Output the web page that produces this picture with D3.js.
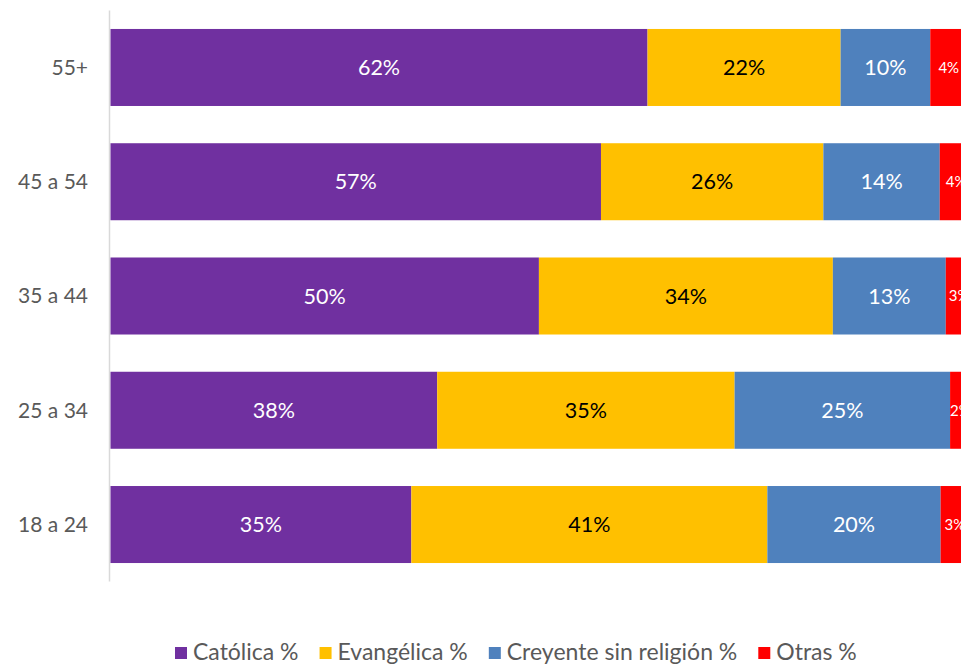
<!DOCTYPE html>
<html>
<head>
<meta charset="utf-8">
<script src="https://cdn.jsdelivr.net/npm/d3@7/dist/d3.min.js"></script>
<style>
  html, body { margin: 0; padding: 0; background: #fff; overflow: hidden; }
  svg { display: block; font-family: Lato, "Open Sans", sans-serif; }
</style>
</head>
<body>
<svg id="chart" width="961" height="665"></svg>
<script>
// ---- data ----
const categories = ["55+", "45 a 54", "35 a 44", "25 a 34", "18 a 24"];
const seriesNames = ["Católica %", "Evangélica %", "Creyente sin religión %", "Otras %"];
const catolica   = [62.3, 56.9, 49.7, 37.9, 34.9];
const evangelica = [22.4, 25.8, 34.1, 34.5, 41.3];
const creyente   = [10.4, 13.5, 13.1, 25.0, 20.1];
const otras      = [4.3, 3.8, 3.1, 2.4, 3.3];
const colors = ["#7030A0", "#FFC000", "#4F81BD", "#FF0000"];
const labelColors = ["#FFFFFF", "#000000", "#FFFFFF", "#FFFFFF"];

const seriesValues = [catolica, evangelica, creyente, otras];
const rows = categories.map((c, i) => {
  const o = { cat: c };
  seriesNames.forEach((s, j) => o[s] = seriesValues[j][i]);
  return o;
});

const svg = d3.select("#chart");
const x = d3.scaleLinear().domain([0, 100]).range([110.5, 972.5]);
const y = d3.scaleBand().domain(categories).range([10.4, 581.6])
  .paddingInner(0.326).paddingOuter(0.1625);

const stack = d3.stack().keys(seriesNames);
const stacked = stack(rows);

// axis line
svg.append("line")
  .attr("x1", 109.5).attr("x2", 109.5)
  .attr("y1", y.range()[0]).attr("y2", y.range()[1])
  .attr("stroke", "#D9D9D9").attr("stroke-width", 1.5);

const g = svg.append("g");
stacked.forEach((layer, j) => {
  const lg = g.append("g");
  lg.selectAll("rect").data(layer).join("rect")
    .attr("x", d => x(d[0]))
    .attr("width", d => x(d[1]) - x(d[0]))
    .attr("y", d => y(d.data.cat))
    .attr("height", y.bandwidth())
    .attr("fill", colors[j]);
  lg.selectAll("text").data(layer).join("text")
    .attr("x", d => (x(d[0]) + x(d[1])) / 2)
    .attr("y", d => y(d.data.cat) + y.bandwidth() / 2)
    .attr("dy", "0.35em")
    .attr("text-anchor", "middle")
    .attr("fill", labelColors[j])
    .attr("font-size", j === 3 ? 15 : 21.5)
    .text(d => Math.round(d[1] - d[0]) + "%");
});

// category axis labels
svg.append("g").selectAll("text").data(categories).join("text")
  .attr("x", 88)
  .attr("y", d => y(d) + y.bandwidth() / 2)
  .attr("dy", "0.35em")
  .attr("text-anchor", "end")
  .attr("fill", "#595959")
  .attr("font-size", 21)
  .text(d => d);

// legend
const legend = svg.append("g");
let lx = 175;
const ly = 652;
seriesNames.forEach((s, j) => {
  legend.append("rect")
    .attr("x", lx).attr("y", ly - 5).attr("width", 12).attr("height", 12)
    .attr("fill", colors[j]);
  const t = legend.append("text")
    .attr("x", lx + 18).attr("y", ly).attr("dy", "0.35em")
    .attr("fill", "#595959").attr("font-size", 23)
    .text(s);
  lx += 18 + t.node().getComputedTextLength() + 21;
});
</script>
</body>
</html>
